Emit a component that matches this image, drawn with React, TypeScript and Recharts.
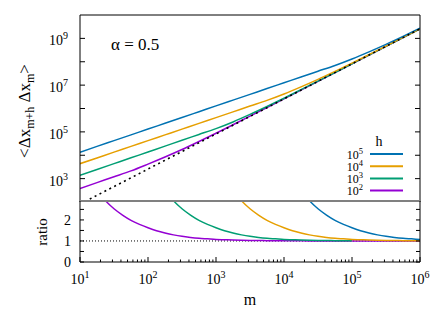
import React from 'react';
import { LineChart, Line, XAxis, YAxis, ReferenceLine } from 'recharts';

const W = 442;
const H = 309;
const FONT = 'Liberation Serif';

// upper panel: m on a quarter-decade grid
const mTop = [
  10, 17.78, 31.62, 56.23, 100, 177.8, 316.2, 562.3, 1000, 1778, 3162, 5623,
  1e4, 1.778e4, 3.162e4, 5.623e4, 1e5, 1.778e5, 3.162e5, 5.623e5, 1e6,
];
const corrH5 = [
  1.35e4, 2.39e4, 4.22e4, 7.46e4, 1.32e5, 2.33e5, 4.12e5, 7.29e5, 1.29e6, 2.28e6, 4.03e6,
  7.12e6, 1.26e7, 2.23e7, 3.94e7, 6.96e7, 1.32e8, 2.66e8, 5.57e8, 1.22e9, 2.75e9,
];
const corrH4 = [
  4365, 7690, 1.357e4, 2.39e4, 4.22e4, 7.43e4, 1.31e5, 2.31e5, 4.07e5, 7.18e5, 1.27e6,
  2.23e6, 4.19e6, 8.41e6, 1.76e7, 3.87e7, 8.7e7, 2.01e8, 4.69e8, 1.1e9, 2.59e9,
];
const corrH3 = [
  1380, 2455, 4365, 7760, 1.38e4, 2.45e4, 4.37e4, 7.76e4, 1.38e5, 2.66e5, 5.57e5,
  1.22e6, 2.75e6, 6.37e6, 1.48e7, 3.48e7, 8.2e7, 1.94e8, 4.58e8, 1.09e9, 2.57e9,
];
const corrH2 = [
  380, 676, 1202, 2148, 4188, 8414, 1.76e4, 3.87e4, 8.69e4, 2.01e5, 4.69e5,
  1.1e6, 2.59e6, 6.12e6, 1.45e7, 3.44e7, 8.13e7, 1.93e8, 4.57e8, 1.08e9, 2.57e9,
];
// dashed asymptote
const asymptote = [
  81, 193, 457, 1084, 2570, 6095, 1.445e4, 3.43e4, 8.13e4, 1.93e5, 4.57e5,
  1.08e6, 2.57e6, 6.1e6, 1.45e7, 3.43e7, 8.13e7, 1.93e8, 4.57e8, 1.08e9, 2.57e9,
];

// lower panel: m on an eighth-decade grid
const mRatio = [
  10, 13.34, 17.78, 23.71, 31.62, 42.17, 56.23, 74.99,
  100, 133.4, 177.8, 237.1, 316.2, 421.7, 562.3, 749.9,
  1000, 1334, 1778, 2371, 3162, 4217, 5623, 7499,
  1e4, 1.334e4, 1.778e4, 2.371e4, 3.162e4, 4.217e4, 5.623e4, 7.499e4,
  1e5, 1.334e5, 1.778e5, 2.371e5, 3.162e5, 4.217e5, 5.623e5, 7.499e5,
  1e6,
];
const ratioH2 = [
  4.71, 3.97, 3.38, 2.91, 2.53, 2.23, 1.98, 1.79, 1.63, 1.49, 1.38, 1.29, 1.22, 1.17,
  1.13, 1.1, 1.07, 1.057, 1.044, 1.034, 1.026, 1.02, 1.016, 1.012, 1.009, 1.007, 1.005,
  1.004, 1.003, 1.002, 1.002, 1.001, 1.001, 1.001, 1.001, 1, 1, 1, 1, 1, 1,
];
const ratioH3 = [
  null, null, null, null, null, null, null, null,
  4.71, 3.97, 3.38, 2.91, 2.53, 2.23, 1.98, 1.79, 1.63, 1.49, 1.38, 1.29, 1.22, 1.17,
  1.13, 1.1, 1.07, 1.057, 1.044, 1.034, 1.026, 1.02, 1.016, 1.012, 1.009,
];
const ratioH4 = [
  null, null, null, null, null, null, null, null,
  null, null, null, null, null, null, null, null,
  4.71, 3.97, 3.38, 2.91, 2.53, 2.23, 1.98, 1.79, 1.63, 1.49, 1.38, 1.29, 1.22, 1.17,
  1.13, 1.1, 1.07, 1.057, 1.044, 1.034, 1.026, 1.02, 1.016, 1.012, 1.009,
];
const ratioH5 = [
  null, null, null, null, null, null, null, null,
  null, null, null, null, null, null, null, null,
  null, null, null, null, null, null, null, null,
  4.71, 3.97, 3.38, 2.91, 2.53, 2.23, 1.98, 1.79, 1.63, 1.49, 1.38, 1.29, 1.22, 1.17,
  1.13, 1.1, 1.07,
];

const series = [
  { key: 'h5', exp: '5', color: '#0072b2' },
  { key: 'h4', exp: '4', color: '#e69f00' },
  { key: 'h3', exp: '3', color: '#009e73' },
  { key: 'h2', exp: '2', color: '#9400d3' },
];
const drawOrder = ['h2', 'h3', 'h4', 'h5'];

const xDecades = [10, 100, 1000, 1e4, 1e5, 1e6];
const xMinor = xDecades.slice(0, -1).flatMap((d) => [2, 3, 4, 5, 6, 7, 8, 9].map((k) => k * d));
const xAllTicks = [...xDecades, ...xMinor].sort((a, b) => a - b);
const yDecades = [1e3, 1e4, 1e5, 1e6, 1e7, 1e8, 1e9];
const ratioTicks = [0, 0.5, 1, 1.5, 2, 2.5];
const ratioRef = 1;
const alpha = 0.5;

const topData = mTop.map((m, i) => ({
  m,
  h5: corrH5[i],
  h4: corrH4[i],
  h3: corrH3[i],
  h2: corrH2[i],
  asym: asymptote[i],
}));

const ratioData = mRatio.map((m, i) => ({
  m,
  h5: ratioH5[i],
  h4: ratioH4[i],
  h3: ratioH3[i],
  h2: ratioH2[i],
}));

const colorOf = (k: string) => series.find((s) => s.key === k)!.color;
const isDecade = (v: number) => xDecades.includes(v);

const NoLabel = () => <g />;

const PowLabelY = (props: any) => {
  const { x, y, payload } = props;
  const e = Math.round(Math.log10(payload.value));
  if (e % 2 === 0) return <g />;
  return (
    <text x={x} y={y + 7} textAnchor="end" fontFamily={FONT} fontSize={14} fill="#000">
      10<tspan dy={-6} fontSize={10}>{e}</tspan>
    </text>
  );
};

// bottom axis of the ratio panel: inward tick marks + 10^n labels
const XTickBottom = (props: any) => {
  const { x, y, payload } = props;
  const major = isDecade(payload.value);
  const e = Math.round(Math.log10(payload.value));
  return (
    <g>
      <line x1={x} x2={x} y1={y} y2={y - (major ? 5 : 2.5)} stroke="#000" strokeWidth={1} />
      {major && (
        <text x={x} y={y + 21.5} textAnchor="middle" fontFamily={FONT} fontSize={14} fill="#000">
          10<tspan dy={-6} fontSize={10}>{e}</tspan>
        </text>
      )}
    </g>
  );
};

// separator between the panels: mirrored ticks pointing down
const XTickTop = (props: any) => {
  const { x, y, payload } = props;
  const major = isDecade(payload.value);
  return <line x1={x} x2={x} y1={y} y2={y + (major ? 5 : 2.5)} stroke="#666" strokeWidth={1} />;
};

const RatioLabel = (props: any) => {
  const { x, y, payload } = props;
  if (!Number.isInteger(payload.value)) return <g />;
  return (
    <text x={x} y={y + 5} textAnchor="end" fontFamily={FONT} fontSize={14} fill="#000">
      {payload.value}
    </text>
  );
};

const logX = { type: 'number' as const, scale: 'log' as const, domain: [10, 1e6], allowDataOverflow: true };

export default function App() {
  return (
    <div style={{ position: 'absolute', left: 0, top: 0, width: W, height: H, background: '#fff' }}>
      {/* upper panel */}
      <div style={{ position: 'absolute', left: 0, top: 0 }}>
        <LineChart width={W} height={H} data={topData} margin={{ top: 14, right: 0, bottom: 107, left: 0 }}>
          <XAxis xAxisId="b" dataKey="m" {...logX} hide height={0} />
          <XAxis
            xAxisId="t"
            orientation="top"
            {...logX}
            height={1}
            ticks={xDecades}
            tick={NoLabel}
            tickLine={false}
            axisLine={{ stroke: '#000' }}
          />
          <YAxis
            yAxisId="l"
            type="number"
            scale="log"
            domain={[1e2, 1e10]}
            allowDataOverflow
            ticks={yDecades}
            interval={0}
            width={80}
            tickSize={-5}
            tickMargin={17}
            tick={PowLabelY}
            stroke="#000"
          />
          <YAxis
            yAxisId="r"
            orientation="right"
            type="number"
            scale="log"
            domain={[1e2, 1e10]}
            allowDataOverflow
            ticks={yDecades}
            interval={0}
            width={22}
            tickSize={-5}
            tick={NoLabel}
            stroke="#000"
          />
          {drawOrder.map((k) => (
            <Line
              key={k}
              xAxisId="b"
              yAxisId="l"
              dataKey={k}
              type="monotone"
              stroke={colorOf(k)}
              strokeWidth={1.5}
              dot={false}
              isAnimationActive={false}
            />
          ))}
          <Line
            xAxisId="b"
            yAxisId="l"
            dataKey="asym"
            type="linear"
            stroke="#000"
            strokeWidth={1.6}
            strokeDasharray="2 3.5"
            dot={false}
            isAnimationActive={false}
          />
        </LineChart>
      </div>

      {/* lower panel: ratio */}
      <div style={{ position: 'absolute', left: 0, top: 0 }}>
        <LineChart width={W} height={H} data={ratioData} margin={{ top: 200, right: 0, bottom: 0, left: 0 }}>
          <XAxis
            xAxisId="t"
            orientation="top"
            {...logX}
            height={1}
            ticks={xAllTicks}
            interval={0}
            tickSize={0}
            tickMargin={0}
            tickLine={false}
            tick={XTickTop}
            axisLine={{ stroke: '#808080', strokeWidth: 2 }}
          />
          <XAxis
            xAxisId="b"
            dataKey="m"
            {...logX}
            height={47}
            ticks={xAllTicks}
            interval={0}
            tickSize={0}
            tickMargin={0}
            tickLine={false}
            tick={XTickBottom}
            stroke="#000"
          />
          <YAxis
            yAxisId="l"
            type="number"
            domain={[0, 2.9]}
            allowDataOverflow
            ticks={ratioTicks}
            interval={0}
            width={80}
            tickSize={-4}
            tickMargin={13}
            tick={RatioLabel}
            stroke="#000"
          />
          <YAxis
            yAxisId="r"
            orientation="right"
            type="number"
            domain={[0, 2.9]}
            allowDataOverflow
            ticks={ratioTicks}
            interval={0}
            width={22}
            tickSize={-4}
            tick={NoLabel}
            stroke="#000"
          />
          <ReferenceLine
            xAxisId="b"
            yAxisId="l"
            y={ratioRef}
            stroke="#000"
            strokeWidth={1}
            strokeDasharray="1 2"
          />
          {drawOrder.map((k) => (
            <Line
              key={k}
              xAxisId="b"
              yAxisId="l"
              dataKey={k}
              type="monotone"
              stroke={colorOf(k)}
              strokeWidth={1.5}
              dot={false}
              connectNulls={false}
              isAnimationActive={false}
            />
          ))}
        </LineChart>
      </div>

      {/* titles, annotation and key */}
      <svg width={W} height={H} style={{ position: 'absolute', left: 0, top: 0, pointerEvents: 'none' }}>
        <text transform="translate(30,111) rotate(-90)" textAnchor="middle" fontFamily={FONT} fontSize={17} fill="#000">
          {'<Δx'}
          <tspan dy={4} fontSize={12}>m+h</tspan>
          <tspan dy={-4}>{' Δx'}</tspan>
          <tspan dy={4} fontSize={12}>m</tspan>
          <tspan dy={-4}>{'>'}</tspan>
        </text>
        <text transform="translate(46.5,232) rotate(-90)" textAnchor="middle" fontFamily={FONT} fontSize={15} fill="#000">
          ratio
        </text>
        <text x={250} y={305} textAnchor="middle" fontFamily={FONT} fontSize={16} fill="#000">
          m
        </text>
        <text x={111} y={50} fontFamily={FONT} fontSize={17} fill="#000">
          {`α = ${alpha}`}
        </text>
        <text x={379} y={146} textAnchor="middle" fontFamily={FONT} fontSize={14} fill="#000">
          h
        </text>
        {series.map((s, i) => {
          const yy = 154 + i * 12.2;
          return (
            <g key={s.key}>
              <text x={363} y={yy + 4.5} textAnchor="end" fontFamily={FONT} fontSize={12} fill="#000">
                10<tspan dy={-5} fontSize={8.5}>{s.exp}</tspan>
              </text>
              <line x1={370} x2={403} y1={yy} y2={yy} stroke={s.color} strokeWidth={2} />
            </g>
          );
        })}
      </svg>
    </div>
  );
}
